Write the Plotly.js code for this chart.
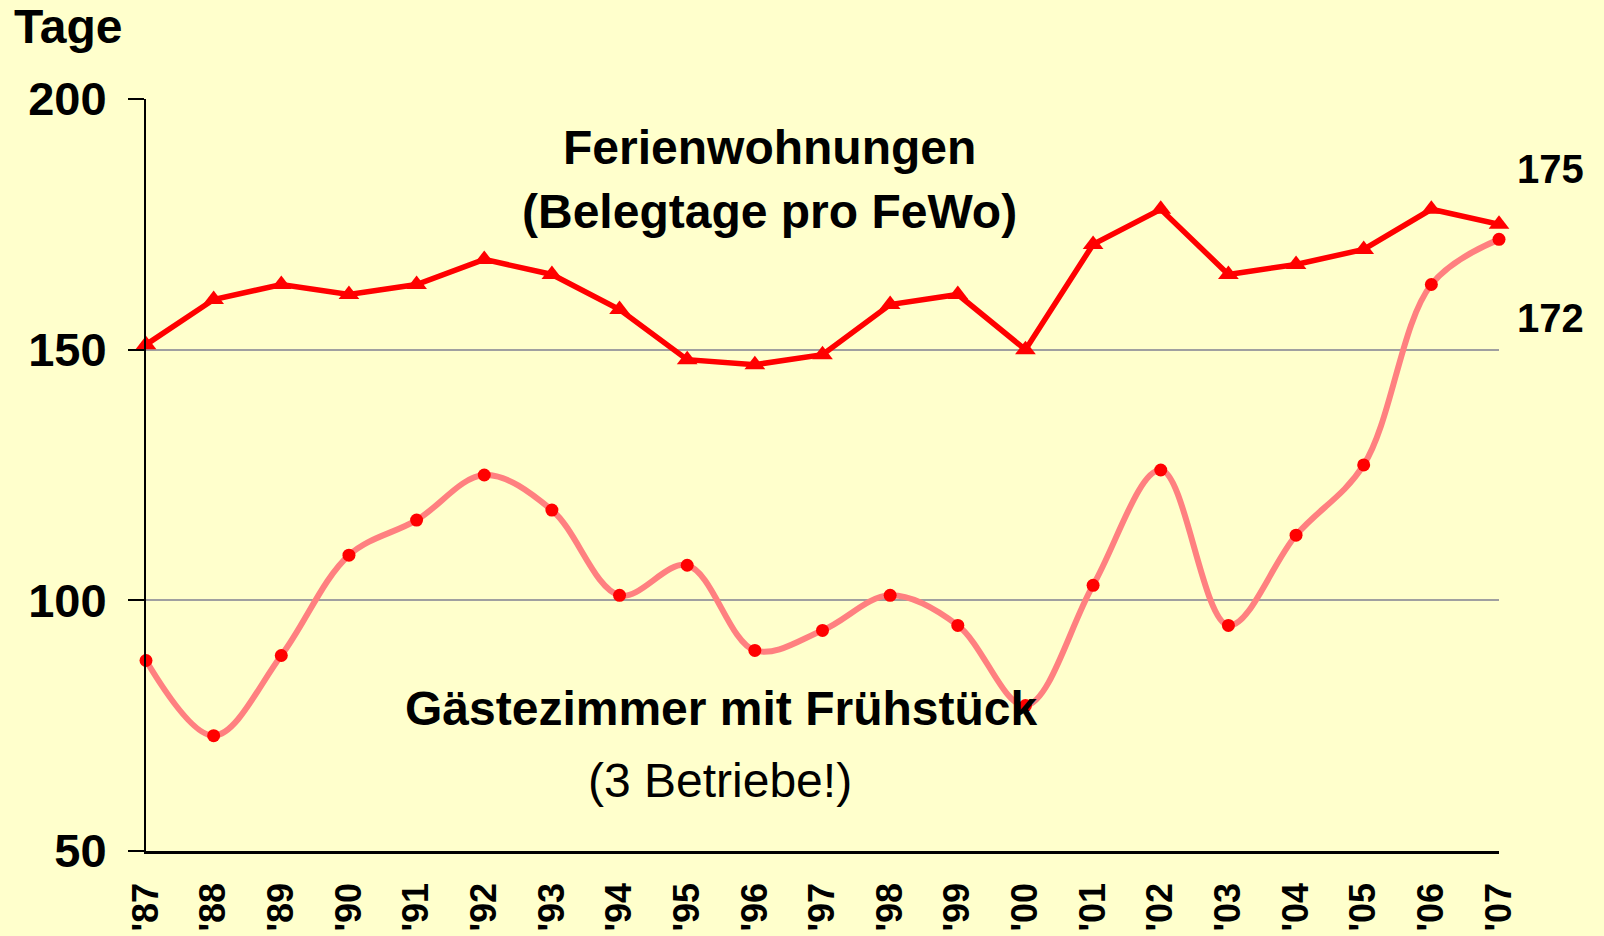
<!DOCTYPE html>
<html>
<head>
<meta charset="utf-8">
<script src="https://cdn.plot.ly/plotly-3.0.1.min.js"></script>
<style>
  html, body { margin: 0; padding: 0; background: #FFFFCC; }
  #chart { width: 1604px; height: 936px; }
</style>
</head>
<body>
<div id="chart"></div>
<script>
const years = ["'87","'88","'89","'90","'91","'92","'93","'94","'95","'96","'97","'98","'99","'00","'01","'02","'03","'04","'05","'06","'07"];
const ferienwohnungen = [151, 160, 163, 161, 163, 168, 165, 158, 148, 147, 149, 159, 161, 150, 171, 178, 165, 167, 170, 178, 175];
const gaestezimmer = [88, 73, 89, 109, 116, 125, 118, 101, 107, 90, 94, 101, 95, 79, 103, 126, 95, 113, 127, 163, 172];
const yTicks = [50, 100, 150, 200];

const FONT = "Arial, 'Liberation Sans', sans-serif";

const traces = [
  {
    x: years, y: ferienwohnungen, type: 'scatter', mode: 'lines+markers',
    name: 'Ferienwohnungen',
    line: {color: '#FF0000', width: 5.5},
    marker: {symbol: 'triangle-up', size: 18, color: '#FF0000'},
    hoverinfo: 'skip', cliponaxis: false
  },
  {
    x: years, y: gaestezimmer, type: 'scatter', mode: 'lines+markers',
    name: 'Gästezimmer mit Frühstück',
    line: {color: '#FF8080', width: 6, shape: 'spline', smoothing: 1},
    marker: {symbol: 'circle', size: 13, color: '#FF0000'},
    hoverinfo: 'skip', cliponaxis: false
  }
];

const layout = {
  width: 1604, height: 936,
  paper_bgcolor: '#FFFFCC', plot_bgcolor: '#FFFFCC',
  margin: {l: 146, r: 105, t: 99, b: 85},
  showlegend: false,
  font: {family: FONT, color: '#000000'},
  xaxis: {
    type: 'category', range: [0, 20],
    showline: true, linecolor: '#000000', linewidth: 2.5,
    showgrid: false, zeroline: false, ticks: '',
    tickangle: -90, ticklabelstandoff: 15,
    tickfont: {family: FONT, size: 36, weight: 'bold', color: '#000000'}
  },
  yaxis: {
    range: [50, 200], tickvals: yTicks,
    showline: true, linecolor: '#000000', linewidth: 2,
    ticks: 'outside', ticklen: 16, tickwidth: 2, tickcolor: '#000000',
    ticklabelstandoff: 12,
    showgrid: true, gridcolor: '#A0A0A0', gridwidth: 2,
    zeroline: false,
    tickfont: {family: FONT, size: 47, weight: 'bold', color: '#000000'}
  },
  annotations: [
    {text: 'Tage', xref: 'paper', yref: 'paper', x: -0.099, y: 1.096,
     xanchor: 'left', yanchor: 'middle', showarrow: false,
     font: {family: FONT, size: 48, weight: 'bold', color: '#000000'}},
    {text: 'Ferienwohnungen', xref: 'paper', yref: 'paper', x: 0.461, y: 0.935,
     xanchor: 'center', yanchor: 'middle', showarrow: false,
     font: {family: FONT, size: 48, weight: 'bold', color: '#000000'}},
    {text: '(Belegtage pro FeWo)', xref: 'paper', yref: 'paper', x: 0.461, y: 0.850,
     xanchor: 'center', yanchor: 'middle', showarrow: false,
     font: {family: FONT, size: 48, weight: 'bold', color: '#000000'}},
    {text: 'Gästezimmer mit Frühstück', xref: 'paper', yref: 'paper', x: 0.425, y: 0.189,
     xanchor: 'center', yanchor: 'middle', showarrow: false,
     font: {family: FONT, size: 48, weight: 'bold', color: '#000000'}},
    {text: '(3 Betriebe!)', xref: 'paper', yref: 'paper', x: 0.424, y: 0.094,
     xanchor: 'center', yanchor: 'middle', showarrow: false,
     font: {family: FONT, size: 48, color: '#000000'}},
    {text: String(ferienwohnungen[ferienwohnungen.length - 1]), xref: 'paper', yref: 'paper', x: 1.0377, y: 0.907,
     xanchor: 'center', yanchor: 'middle', showarrow: false,
     font: {family: FONT, size: 40, weight: 'bold', color: '#000000'}},
    {text: String(gaestezimmer[gaestezimmer.length - 1]), xref: 'paper', yref: 'paper', x: 1.0377, y: 0.709,
     xanchor: 'center', yanchor: 'middle', showarrow: false,
     font: {family: FONT, size: 40, weight: 'bold', color: '#000000'}}
  ]
};

Plotly.newPlot('chart', traces, layout, {displayModeBar: false, staticPlot: true});
</script>
</body>
</html>
